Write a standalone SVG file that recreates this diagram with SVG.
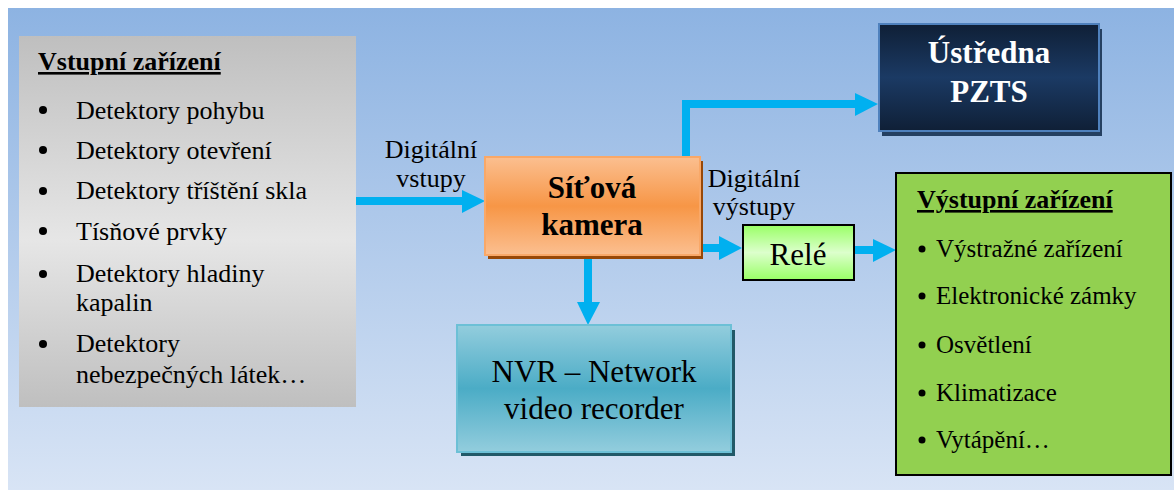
<svg xmlns="http://www.w3.org/2000/svg" width="1174" height="490" viewBox="0 0 1174 490" font-family="'Liberation Serif', 'Times New Roman', 'DejaVu Serif', serif">
<defs>
<linearGradient id="bg" x1="0" y1="0" x2="0" y2="1">
<stop offset="0" stop-color="#8db3e2"/>
<stop offset="1" stop-color="#d8e4f5"/>
</linearGradient>
<linearGradient id="gray" x1="0" y1="0" x2="0" y2="1">
<stop offset="0" stop-color="#bfbfbf"/>
<stop offset="0.55" stop-color="#e6e6e6"/>
<stop offset="1" stop-color="#bfbfbf"/>
</linearGradient>
<linearGradient id="orange" x1="0" y1="0" x2="0" y2="1">
<stop offset="0" stop-color="#fbbf90"/>
<stop offset="0.5" stop-color="#f79646"/>
<stop offset="1" stop-color="#fbbf90"/>
</linearGradient>
<linearGradient id="teal" x1="0" y1="0" x2="0" y2="1">
<stop offset="0" stop-color="#93cddd"/>
<stop offset="0.5" stop-color="#4bacc6"/>
<stop offset="1" stop-color="#93cddd"/>
</linearGradient>
<linearGradient id="navy" x1="0" y1="0" x2="0" y2="1">
<stop offset="0" stop-color="#0f1f36"/>
<stop offset="0.5" stop-color="#1b3a64"/>
<stop offset="1" stop-color="#0f1f36"/>
</linearGradient>
<linearGradient id="lime" x1="0" y1="0" x2="0" y2="1">
<stop offset="0" stop-color="#99ff66"/>
<stop offset="0.5" stop-color="#dcffcc"/>
<stop offset="1" stop-color="#99ff66"/>
</linearGradient>
</defs>
<style>
text{font-family:"Liberation Serif","Times New Roman",serif;fill:#000}
.item{font-size:26px}
.oitem{font-size:25px}
.title{font-size:26px;font-weight:bold;text-decoration:underline}
.big{font-size:31px;font-weight:bold;text-anchor:middle}
.reg{font-size:31px;text-anchor:middle}
.lbl{font-size:26px;text-anchor:middle}
.shaft{fill:none;stroke:#00b0f0;stroke-width:8}
.head{fill:#00b0f0}
</style>
<rect x="0" y="0" width="1174" height="490" fill="#ffffff"/>
<rect x="8" y="8" width="1166" height="482" fill="url(#bg)"/>

<g id="connectors">
<line class="shaft" x1="356" y1="201" x2="464" y2="201"/>
<polygon class="head" points="462,190 485,201 462,213"/>
<polyline class="shaft" points="686,157 686,104 857,104"/>
<polygon class="head" points="855,93 878,104 855,116"/>
<line class="shaft" x1="700" y1="248" x2="721" y2="248"/>
<polygon class="head" points="719,236 742,248 719,260"/>
<line class="shaft" x1="854" y1="250" x2="875" y2="250"/>
<polygon class="head" points="873,239 896,250 873,262"/>
<line class="shaft" x1="588" y1="259" x2="588" y2="304"/>
<polygon class="head" points="577,302 600,302 588,325"/>
<text class="lbl" x="431" y="158">Digitální</text>
<text class="lbl" x="431" y="187">vstupy</text>
<text class="lbl" x="754" y="187">Digitální</text>
<text class="lbl" x="754" y="215">výstupy</text>
</g>

<g id="vstupni">
<rect x="19" y="36" width="337" height="371" fill="url(#gray)"/>
<text class="title" x="38" y="70">Vstupní zařízení</text>
<g fill="#000">
<circle cx="43" cy="110" r="4"/>
<circle cx="43" cy="150" r="4"/>
<circle cx="43" cy="191" r="4"/>
<circle cx="43" cy="231" r="4"/>
<circle cx="43" cy="274" r="4"/>
<circle cx="43" cy="344" r="4"/>
</g>
<text class="item" x="76" y="119">Detektory pohybu</text>
<text class="item" x="76" y="159">Detektory otevření</text>
<text class="item" x="76" y="199">Detektory tříštění skla</text>
<text class="item" x="76" y="240">Tísňové prvky</text>
<text class="item" x="76" y="282">Detektory hladiny</text>
<text class="item" x="76" y="311">kapalin</text>
<text class="item" x="76" y="352">Detektory</text>
<text class="item" x="76" y="383">nebezpečných látek…</text>
</g>

<g id="kamera">
<rect x="488" y="161" width="215" height="98" fill="#984807"/>
<rect x="485" y="157" width="215" height="98" fill="url(#orange)" stroke="#f9a868" stroke-width="2"/>
<text class="big" x="592" y="198">Síťová</text>
<text class="big" x="592" y="235">kamera</text>
</g>

<g id="ustredna">
<rect x="882" y="29" width="220" height="107" fill="#254061"/>
<rect x="879" y="24" width="220" height="107" fill="url(#navy)" stroke="#4f81bd" stroke-width="2"/>
<text class="big" x="989" y="63" style="fill:#ffffff">Ústředna</text>
<text class="big" x="989" y="102" style="fill:#ffffff">PZTS</text>
</g>

<g id="nvr">
<rect x="461" y="330" width="274" height="126" fill="#215968"/>
<rect x="457" y="325" width="274" height="127" fill="url(#teal)" stroke="#6cc0d6" stroke-width="2"/>
<text class="reg" x="594" y="382">NVR – Network</text>
<text class="reg" x="594" y="419">video recorder</text>
</g>

<g id="rele">
<rect x="743" y="225" width="111" height="55" fill="url(#lime)" stroke="#000" stroke-width="2"/>
<text class="reg" x="798" y="265">Relé</text>
</g>

<g id="vystupni">
<rect x="896" y="173" width="275" height="302" fill="#92d050" stroke="#000" stroke-width="2"/>
<text class="title" x="917" y="208">Výstupní zařízení</text>
<g fill="#000">
<circle cx="922" cy="249" r="3.5"/>
<circle cx="922" cy="296" r="3.5"/>
<circle cx="922" cy="345" r="3.5"/>
<circle cx="922" cy="393" r="3.5"/>
<circle cx="922" cy="440" r="3.5"/>
</g>
<text class="oitem" x="936" y="257">Výstražné zařízení</text>
<text class="oitem" x="936" y="304">Elektronické zámky</text>
<text class="oitem" x="936" y="353">Osvětlení</text>
<text class="oitem" x="936" y="401">Klimatizace</text>
<text class="oitem" x="936" y="448">Vytápění…</text>
</g>
</svg>
